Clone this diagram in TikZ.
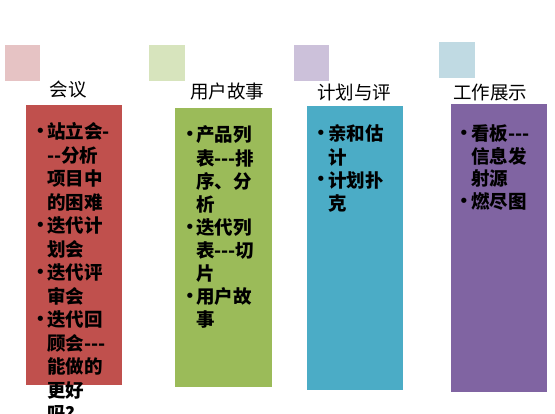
\documentclass[tikz,border=0pt]{standalone}
\usepackage{fontspec}
\newfontfamily\cjk{Noto Sans CJK SC}
\newfontfamily\bulfont{DejaVu Sans}
\definecolor{sqA}{HTML}{E6C3C4}
\definecolor{sqB}{HTML}{D7E4BD}
\definecolor{sqC}{HTML}{CCC1DA}
\definecolor{sqD}{HTML}{C0DAE3}
\definecolor{boxA}{HTML}{C0504D}
\definecolor{boxB}{HTML}{9BBB59}
\definecolor{boxC}{HTML}{4BACC6}
\definecolor{boxD}{HTML}{8064A2}
\tikzset{
  ttl/.style={font=\cjk\fontsize{18.5}{22}\selectfont, anchor=base, inner sep=0pt},
  ln/.style={font=\cjk\bfseries\fontsize{18.5}{22}\selectfont, anchor=base west, inner sep=0pt},
  bul/.style={font=\bulfont\fontsize{18}{20}\selectfont, anchor=base, inner sep=0pt},
}
\begin{document}
\begin{tikzpicture}[x=1pt,y=-1pt]
\fill[white] (0,0) rectangle (555,414);
\useasboundingbox (0,0) rectangle (555,414);
% squares
\fill[sqA] (5,45) rectangle (40,81);
\fill[sqB] (149,45) rectangle (185,81);
\fill[sqC] (294,45) rectangle (329,81);
\fill[sqD] (439,42) rectangle (475,78);
% boxes
\fill[boxA] (26,105) rectangle (122,385);
\fill[boxB] (175,108) rectangle (272,387);
\fill[boxC] (307,106) rectangle (403,390);
\fill[boxD] (451,104) rectangle (547,392);
% titles
\node[ttl] (t1) at (68,97) {会议};
\node[ttl] (t2) at (227,99) {用户故事};
\node[ttl] (t3) at (354,100) {计划与评};
\node[ttl] (t4) at (490,100) {工作展示};
% column 1
\foreach \s/\t [count=\i] in {1/站立会-, 0/--分析, 0/项目中, 0/的困难, 1/迭代计, 0/划会, 1/迭代评, 0/审会, 1/迭代回, 0/顾会---, 0/能做的, 0/更好, 0/吗？}{
  \node[ln] (a\i) at (47,{138.7+(\i-1)*23.5}) {\t};
  \ifnum\s=1 \node[bul] (ab\i) at (40.5,{137.5+(\i-1)*23.5}) {•};\fi
}
% column 2
\foreach \s/\t [count=\i] in {1/产品列, 0/表---排, 0/序、分, 0/析, 1/迭代列, 0/表---切, 0/片, 1/用户故, 0/事}{
  \node[ln] (b\i) at (196,{142+(\i-1)*23.1}) {\t};
  \ifnum\s=1 \node[bul] (bb\i) at (190,{140.8+(\i-1)*23.1}) {•};\fi
}
% column 3
\foreach \s/\t [count=\i] in {1/亲和估, 0/计, 1/计划扑, 0/克}{
  \node[ln] (c\i) at (328,{141+(\i-1)*23.1}) {\t};
  \ifnum\s=1 \node[bul] (cb\i) at (321,{139.8+(\i-1)*23.1}) {•};\fi
}
% column 4
\foreach \s/\t [count=\i] in {1/看板---, 0/信息发, 0/射源, 1/燃尽图}{
  \node[ln] (d\i) at (471,{140.3+(\i-1)*22.8}) {\t};
  \ifnum\s=1 \node[bul] (db\i) at (464,{139.1+(\i-1)*22.8}) {•};\fi
}
\end{tikzpicture}
\end{document}
